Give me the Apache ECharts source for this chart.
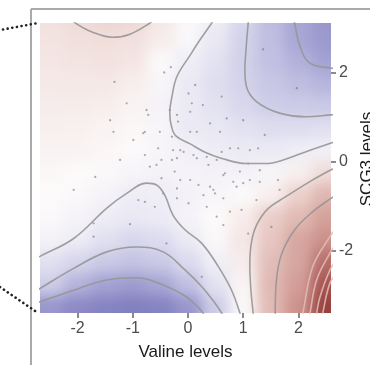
<!DOCTYPE html>
<html>
<head>
<meta charset="utf-8">
<script src="https://cdn.jsdelivr.net/npm/echarts@6/dist/echarts.min.js"></script>
<style>
  body { margin: 0; background: #fff; }
  #clip { position: absolute; left: 40px; top: 23px; width: 291px; height: 290px; overflow: hidden; }
  #heat { position: absolute; left: -30px; top: -30px; width: 351px; height: 350px; filter: blur(7px); }
  #main { position: absolute; left: 0; top: 0; width: 370px; height: 365px; }
</style>
</head>
<body>
<div id="clip"><div id="heat"></div></div>
<div id="main"></div>
<script>
// axis ranges
var xMin = -2.68, xMax = 2.59, yMin = -3.39, yMax = 3.11;
var xTicks = [-2, -1, 0, 1, 2];
var yTicks = [-2, 0, 2];

// surface on a 0.5 grid
var gridX = [-2.5, -2, -1.5, -1, -0.5, 0, 0.5, 1, 1.5, 2, 2.5];
var gridY = [3.25, 2.75, 2.25, 1.75, 1.25, 0.75, 0.25, -0.25, -0.75, -1.25, -1.75, -2.25, -2.75, -3.25];
var surface = [
  [0.45, 0.55, 0.7, 0.65, 0.35, -0.1, -0.5, -1.3, -2.0, -2.5, -2.8],
  [0.4, 0.48, 0.5, 0.47, 0.25, -0.15, -0.8, -1.45, -1.95, -2.5, -2.75],
  [0.35, 0.4, 0.42, 0.37, -0.05, -0.53, -1.0, -1.47, -1.9, -2.25, -2.6],
  [0.3, 0.32, 0.32, 0.22, -0.2, -0.7, -1.1, -1.45, -1.75, -1.96, -2.17],
  [0.25, 0.25, 0.22, 0.12, -0.3, -0.7, -1.0, -1.3, -1.55, -1.64, -1.7],
  [0.2, 0.18, 0.12, 0.05, -0.22, -0.72, -0.85, -1.0, -1.14, -1.14, -1.04],
  [0.12, 0.12, 0.06, -0.05, -0.2, -0.42, -0.6, -0.7, -0.69, -0.53, -0.43],
  [0.05, 0.0, -0.1, -0.25, -0.35, -0.3, -0.35, -0.35, -0.2, 0.2, 0.55],
  [0.0, -0.1, -0.3, -0.6, -0.55, -0.35, -0.2, -0.05, 0.2, 0.75, 1.4],
  [-0.1, -0.3, -0.6, -0.8, -0.65, -0.3, 0.0, 0.25, 0.8, 1.3, 2.0],
  [-0.35, -0.6, -1.05, -1.3, -1.15, -0.7, -0.1, 0.35, 0.95, 1.85, 2.45],
  [-1.05, -1.35, -1.7, -1.85, -1.7, -1.2, -0.5, 0.25, 1.2, 1.9, 3.6],
  [-1.55, -2.2, -2.6, -2.7, -2.52, -1.9, -1.0, 0.1, 1.35, 2.1, 4.8],
  [-2.8, -3.0, -3.1, -3.15, -3.1, -2.8, -1.6, -0.1, 1.3, 2.4, 6.0]
];

// contour lines
var contourA = [[-2.1, 3.2], [-2.04, 3.11], [-1.76, 2.92], [-1.37, 2.79], [-1.05, 2.86], [-0.69, 3.11], [-0.62, 3.2]];
var contourB = [[0.47, 3.2], [0.43, 3.11], [0.2, 2.7], [0.04, 2.39], [-0.2, 1.91], [-0.29, 1.46], [-0.33, 1.1], [-0.3, 0.8], [-0.22, 0.58], [0.04, 0.4], [0.3, 0.22], [0.6, 0.08], [1.06, -0.04], [1.4, -0.04], [1.75, 0.05], [2.21, 0.26], [2.59, 0.42], [2.7, 0.47]];
var contourC = [[1.1, 3.2], [1.09, 3.11], [1.05, 2.5], [1.03, 2.06], [1.06, 1.68], [1.24, 1.35], [1.66, 1.09], [2.15, 1.01], [2.59, 1.05], [2.7, 1.06]];
var contourD = [[1.91, 3.2], [1.93, 3.11], [2.03, 2.58], [2.21, 2.21], [2.59, 2.10], [2.7, 2.09]];
var contourE = [[-2.75, -2.17], [-2.68, -2.12], [-2.07, -1.72], [-1.47, -1.04], [-1.11, -0.71], [-0.75, -0.48], [-0.57, -0.52], [-0.42, -0.75], [-0.27, -1.2], [-0.05, -1.53], [0.25, -1.83], [0.55, -2.35], [0.79, -2.88], [0.94, -3.39], [0.96, -3.5]];
var contourF = [[-2.75, -2.89], [-2.68, -2.84], [-2.07, -2.39], [-1.47, -2.02], [-0.93, -1.91], [-0.45, -2.02], [-0.05, -2.43], [0.25, -2.8], [0.49, -3.17], [0.61, -3.39], [0.65, -3.5]];
var contourG = [[-2.75, -3.17], [-2.68, -3.14], [-2.07, -2.88], [-1.47, -2.65], [-0.93, -2.6], [-0.45, -2.76], [-0.05, -3.01], [0.18, -3.26], [0.27, -3.39], [0.32, -3.5]];
var contourH = [[2.7, -0.12], [2.59, -0.18], [2.2, -0.45], [1.75, -0.8], [1.45, -1.05], [1.25, -1.4], [1.15, -1.8], [1.12, -2.32], [1.14, -2.88], [1.18, -3.39], [1.19, -3.5]];
var contourI = [[2.7, -0.73], [2.59, -0.82], [2.26, -1.12], [1.93, -1.53], [1.69, -2.09], [1.6, -2.69], [1.58, -3.39], [1.58, -3.5]];
var contourR1 = [[2.7, -1.45], [2.57, -1.68], [2.26, -2.35], [2.08, -3.39], [2.06, -3.5]];
var contourR2 = [[2.7, -1.8], [2.57, -2.05], [2.33, -2.65], [2.21, -3.39], [2.2, -3.5]];
var contourR3 = [[2.7, -2.2], [2.57, -2.43], [2.39, -3.03], [2.33, -3.39], [2.32, -3.5]];
var contourR4 = [[2.7, -2.5], [2.57, -2.72], [2.44, -3.39], [2.43, -3.5]];

// sample points
var samples = [
  [-0.43, 2.0], [-0.31, 2.12], [-1.33, 1.79], [-1.11, 1.31], [-0.75, 1.16], [-0.72, 1.05], [-0.33, 1.16], [-0.2, 1.05],
  [0.13, 1.72], [0.01, 1.53], [0.07, 1.31], [0.27, 1.27], [0.04, 1.12], [-0.18, 0.9], [-0.78, 0.67], [-0.81, 0.64],
  [-0.99, 0.49], [-1.35, 0.67], [-0.51, 0.67], [-0.54, 0.3], [-1.23, 0.04], [-0.78, 0.15], [-0.29, 0.56], [-0.14, 0.26],
  [0.04, 0.67], [0.16, 0.67], [-0.2, 0.08], [0.16, 0.08], [0.34, 0.11], [-1.41, 0.93], [-0.48, 0.04], [-0.69, -0.11],
  [0.58, 0.67], [1.0, 0.93], [0.7, 0.97], [0.4, 0.86], [1.27, 0.3], [1.12, 0.26], [0.91, 0.3], [0.76, 0.3],
  [0.61, 0.22], [1.39, 0.6], [1.09, -0.04], [0.94, -0.22], [1.3, -0.19], [0.64, -0.3], [0.37, -0.07], [0.52, 0.04],
  [0.1, 0.15], [-0.08, 0.22], [-0.27, 0.26], [-0.29, 0.04], [-0.24, -0.22], [-0.14, -0.41], [0.04, -0.41], [0.19, -0.52],
  [0.4, -0.56], [0.82, -0.45], [1.0, -0.48], [1.12, -0.41], [1.3, -0.45], [0.64, -0.82], [0.49, -0.71], [0.88, -0.56],
  [0.28, -0.75], [0.97, -1.08], [1.24, -0.86], [0.76, -1.12], [0.34, -1.01], [0.01, -0.93], [-0.6, -1.01], [-0.45, -0.71],
  [-0.48, -0.37], [-0.57, -0.07], [0.52, -1.23], [1.63, -0.41], [1.66, -0.63], [1.36, 2.52], [1.97, 1.65], [0.61, 1.46],
  [0.67, -0.26], [0.46, -0.63], [1.09, -1.61], [1.51, -1.46], [0.64, -1.42], [0.25, -2.58], [-1.68, -0.34], [-2.07, -0.63],
  [-1.05, -1.4], [-1.71, -1.68], [-1.71, -1.38], [-0.9, -0.86], [-0.78, -0.9], [-0.2, -0.82], [-0.39, -1.83], [-0.2, -0.6]
];

// ---- surface (blurred underneath) ----
var heatData = [];
for (var r = 0; r < gridY.length; r++) {
  for (var c = 0; c < gridX.length; c++) {
    heatData.push([gridX[c], gridY[r], surface[r][c]]);
  }
}
var dx = gridX[1] - gridX[0];
var dy = gridY[0] - gridY[1];

var heatChart = echarts.init(document.getElementById('heat'));
heatChart.setOption({
  animation: false,
  grid: { left: 30, top: 30, width: 291, height: 290, outerBoundsMode: 'none' },
  xAxis: { type: 'value', min: xMin, max: xMax, show: false },
  yAxis: { type: 'value', min: yMin, max: yMax, show: false },
  visualMap: {
    show: false, dimension: 2, min: -3.5, max: 7, seriesIndex: 0,
    inRange: {
      color: ['#6e6ab4', '#a3a1d2', '#c8c7e5', '#e7e6f3', '#fcfafa', '#e8c9c4', '#d9aaa4',
              '#c98a84', '#b9706a', '#ac5c57', '#a14c48', '#973f3c', '#8e3533']
    }
  },
  series: [{
    type: 'custom',
    data: heatData,
    renderItem: function (params, api) {
      var x = api.value(0), y = api.value(1);
      var p0 = api.coord([x - dx / 2, y + dy / 2]);
      var p1 = api.coord([x + dx / 2, y - dy / 2]);
      var x0 = p0[0], y0 = p0[1], x1 = p1[0] + 1, y1 = p1[1] + 1;
      if (x === gridX[0]) x0 -= 40;
      if (x === gridX[gridX.length - 1]) x1 += 40;
      if (y === gridY[0]) y0 -= 40;
      if (y === gridY[gridY.length - 1]) y1 += 40;
      return {
        type: 'rect',
        shape: { x: x0, y: y0, width: x1 - x0, height: y1 - y0 },
        style: { fill: api.visual('color') }
      };
    }
  }]
});

// ---- axes, contours, points ----
var font = 'Liberation Sans, Arial, sans-serif';
function contour(data, color) {
  return {
    type: 'line', data: data, smooth: 0.4, showSymbol: false, silent: true,
    lineStyle: { color: color, width: 1.6 }
  };
}
var grey = 'rgba(150,150,150,0.9)';
var pale = 'rgba(222,190,188,0.85)';

var myChart = echarts.init(document.getElementById('main'));
myChart.setOption({
  animation: false,
  grid: { left: 40, top: 23, width: 291, height: 290, outerBoundsMode: 'none' },
  xAxis: {
    type: 'value', min: xMin, max: xMax,
    name: 'Valine levels', nameLocation: 'middle', nameGap: 31, nameMoveOverlap: false,
    nameTextStyle: { fontFamily: font, fontSize: 17, color: '#1a1a1a' },
    axisLine: { show: false, onZero: false },
    splitLine: { show: false },
    axisTick: { show: true, length: 5, lineStyle: { color: '#666', width: 1.5 }, customValues: xTicks },
    axisLabel: { fontFamily: font, fontSize: 16, color: '#4d4d4d', margin: 8, customValues: xTicks }
  },
  yAxis: {
    type: 'value', position: 'right', min: yMin, max: yMax,
    name: 'SCG3 levels', nameLocation: 'middle', nameGap: 28, nameRotate: 90, nameMoveOverlap: false,
    nameTextStyle: { fontFamily: font, fontSize: 17, color: '#1a1a1a', padding: [0, 0, 0, 18] },
    axisLine: { show: false, onZero: false },
    splitLine: { show: false },
    axisTick: { show: true, length: 5, lineStyle: { color: '#666', width: 1.5 }, customValues: yTicks },
    axisLabel: { fontFamily: font, fontSize: 16, color: '#4d4d4d', margin: 8, customValues: yTicks }
  },
  series: [
    contour(contourA, grey), contour(contourB, grey), contour(contourC, grey), contour(contourD, grey),
    contour(contourE, grey), contour(contourF, grey), contour(contourG, grey),
    contour(contourH, grey), contour(contourI, grey),
    contour(contourR1, pale), contour(contourR2, pale), contour(contourR3, pale), contour(contourR4, pale),
    {
      type: 'scatter', data: samples, symbolSize: 2.3, silent: true,
      itemStyle: { color: 'rgba(95,85,95,0.6)' }
    }
  ],
  graphic: [
    { type: 'line', shape: { x1: 31, y1: 9, x2: 370, y2: 9 }, style: { stroke: '#aaa', lineWidth: 2 } },
    { type: 'line', shape: { x1: 31, y1: 9, x2: 31, y2: 365 }, style: { stroke: '#aaa', lineWidth: 2 } },
    { type: 'line', shape: { x1: 3, y1: 29.5, x2: 38, y2: 23 }, style: { stroke: '#222', lineWidth: 2.6, lineDash: [0.1, 4.6], lineCap: 'round' } },
    { type: 'line', shape: { x1: 0, y1: 287, x2: 38, y2: 313 }, style: { stroke: '#222', lineWidth: 2.6, lineDash: [0.1, 4.6], lineCap: 'round' } }
  ]
});
</script>
</body>
</html>
